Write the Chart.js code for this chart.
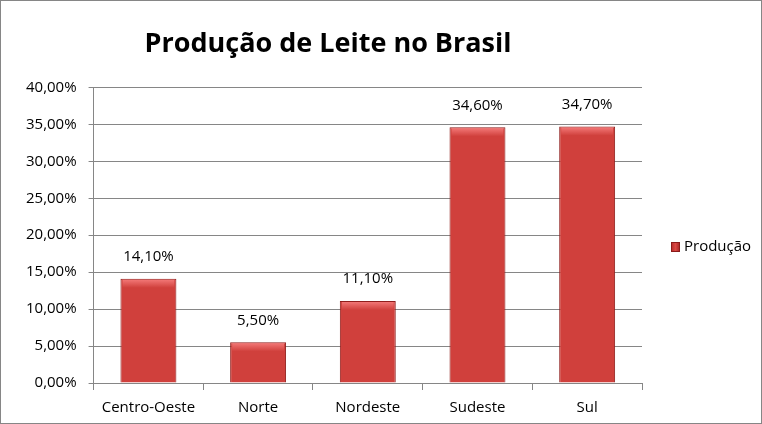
<!DOCTYPE html>
<html>
<head>
<meta charset="utf-8">
<script src="https://cdn.jsdelivr.net/npm/chart.js@4"></script>
<style>
  html, body { margin: 0; padding: 0; background: #fff; }
  #wrap { width: 762px; height: 424px; position: relative; }
</style>
</head>
<body>
<div id="wrap"><canvas id="leiteChart" width="762" height="424"></canvas></div>
<script>
// dados do grafico
const regioes = ["Centro-Oeste", "Norte", "Nordeste", "Sudeste", "Sul"];
const producao = [14.1, 5.5, 11.1, 34.6, 34.7];
const serieNome = "Produção";
const tituloTexto = "Produção de Leite no Brasil";

const FONT = "'Open Sans', 'Liberation Sans', sans-serif";

function fmt(v) {
  return v.toFixed(2).replace(".", ",") + "%";
}

// gradiente horizontal estilo Excel
function barFill(ctx) {
  const chart = ctx.chart;
  const el = ctx.element;
  if (!chart.chartArea || !el || el.width === undefined) return "#d0403c";
  const x0 = el.x - el.width / 2;
  const x1 = el.x + el.width / 2;
  const g = chart.ctx.createLinearGradient(x0, 0, x1, 0);
  g.addColorStop(0, "#a62624");
  g.addColorStop(0.1, "#d03c38");
  g.addColorStop(0.5, "#dc4440");
  g.addColorStop(0.9, "#d03c38");
  g.addColorStop(1, "#9a2220");
  return g;
}

const extras = {
  id: "extras",
  afterDatasetsDraw(chart) {
    const c = chart.ctx;
    const meta = chart.getDatasetMeta(0);
    c.save();
    // brilho no topo das barras
    meta.data.forEach((bar) => {
      const x0 = bar.x - bar.width / 2;
      const g = c.createLinearGradient(0, bar.y, 0, bar.y + 9);
      g.addColorStop(0, "rgba(255,140,140,0.8)");
      g.addColorStop(1, "rgba(255,140,140,0)");
      c.fillStyle = g;
      c.fillRect(x0 + 2, bar.y + 1, bar.width - 4, 9);
    });
    // rotulos de dados
    c.fillStyle = "#000";
    c.font = "15px " + FONT;
    c.textAlign = "center";
    c.textBaseline = "middle";
    meta.data.forEach((bar, i) => {
      c.fillText(fmt(producao[i]), bar.x, bar.y - 22);
    });
    c.restore();
  },
  afterDraw(chart) {
    const c = chart.ctx;
    c.save();
    // legenda
    const lx = 671, ly = 247;
    const g = c.createLinearGradient(lx, 0, lx + 9, 0);
    g.addColorStop(0, "#b02a28");
    g.addColorStop(0.5, "#dc4844");
    g.addColorStop(1, "#a02220");
    c.fillStyle = g;
    c.fillRect(lx, ly - 5, 9, 10);
    c.strokeStyle = "#8b1a1a";
    c.lineWidth = 1;
    c.strokeRect(lx + 0.5, ly - 4.5, 8, 9);
    c.fillStyle = "#000";
    c.font = "15px " + FONT;
    c.textAlign = "left";
    c.textBaseline = "middle";
    c.fillText(chart.data.datasets[0].label, lx + 13, ly);
    // moldura
    c.strokeStyle = "#868686";
    c.strokeRect(0.5, 0.5, chart.width - 1, chart.height - 1);
    c.restore();
  }
};

const ctx = document.getElementById("leiteChart").getContext("2d");
new Chart(ctx, {
  type: "bar",
  data: {
    labels: regioes,
    datasets: [
      {
        label: serieNome,
        data: producao,
        backgroundColor: barFill,
        borderColor: "#8e1c1a",
        borderWidth: 1,
        barPercentage: 0.51,
        categoryPercentage: 1,
      },
    ],
  },
  options: {
    responsive: false,
    animation: false,
    layout: { padding: { left: 14, right: 120, top: 0, bottom: 0 } },
    plugins: {
      legend: { display: false },
      tooltip: { enabled: false },
      title: {
        display: true,
        text: tituloTexto,
        color: "#000",
        font: { family: FONT, size: 27, weight: "bold" },
        padding: { top: 28, bottom: 27 },
      },
    },
    scales: {
      x: {
        afterFit: (scale) => { scale.height = 41; },
        grid: {
          offset: true,
          drawOnChartArea: false,
          tickLength: 7,
          color: "#868686",
        },
        border: { color: "#868686" },
        ticks: { color: "#000", font: { family: FONT, size: 15 }, padding: 9 },
      },
      y: {
        min: 0,
        max: 40,
        ticks: {
          stepSize: 5,
          color: "#000",
          font: { family: FONT, size: 15 },
          padding: 12,
          callback: (v) => fmt(v),
        },
        grid: { color: "#868686", tickLength: 5 },
        border: { color: "#868686" },
      },
    },
  },
  plugins: [extras],
});
</script>
</body>
</html>
